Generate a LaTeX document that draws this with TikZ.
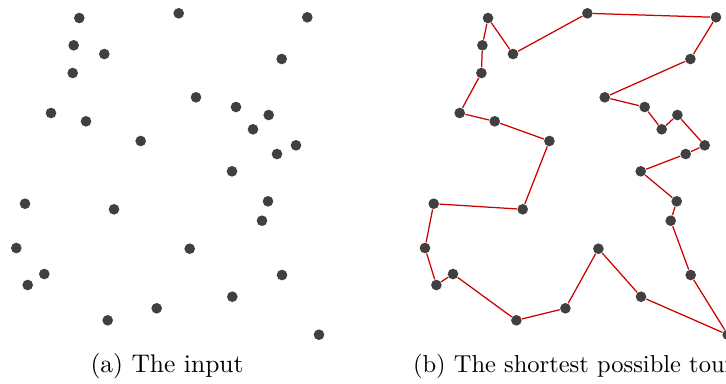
\documentclass[tikz,border=0pt]{standalone}
\definecolor{dotgray}{HTML}{404040}
\definecolor{tourred}{HTML}{CC0000}
\tikzset{
  pt/.style={circle, fill=dotgray, draw=none, inner sep=0pt, minimum size=4.25pt},
  tourline/.style={draw=tourred, line width=0.5pt},
  caption/.style={anchor=base west, inner sep=0pt, font=\fontsize{10.2}{12}\selectfont}
}
\begin{document}
\begin{tikzpicture}[x=0.4pt, y=-0.4pt]
\useasboundingbox (0,0) rectangle (726,383);
\clip (0,0) rectangle (726,383);
\def\pts{1/79.3/18, 2/178.7/13.3, 3/307.3/17.3, 4/73.7/45.3, 5/104.3/54,
  6/72.7/73, 7/281.7/59, 8/196/97.3, 9/51/113, 10/86/121.3,
  11/236/107, 12/268.7/115, 13/253/129.3, 14/140.7/141, 15/296/145.3,
  16/277/154, 17/232/171.3, 18/25/203.7, 19/114/209.3, 20/268/201.3,
  21/262/220.7, 22/16.3/248, 23/189.7/248.7, 24/44.3/274, 25/27.7/285,
  26/282/275, 27/232.3/296.7, 28/156.7/308.3, 29/107.7/320.3, 30/319/334.7}
% (a) the input
\foreach \i/\x/\y in \pts { \node[pt] (a\i) at (\x,\y) {}; }
% (b) the tour
\foreach \i/\x/\y in \pts { \node[pt] (b\i) at (\x+408.7,\y) {}; }
\draw[tourline] (b1) -- (b4) -- (b6) -- (b9) -- (b10) -- (b14) -- (b19) -- (b18)
  -- (b22) -- (b25) -- (b24) -- (b29) -- (b28) -- (b23) -- (b27) -- (b30)
  -- (b26) -- (b21) -- (b20) -- (b17) -- (b16) -- (b15) -- (b12) -- (b13)
  -- (b11) -- (b8) -- (b7) -- (b3) -- (b2) -- (b5) -- (b1);
\node[caption] (capa) at (90,372.7) {(a) The input};
\node[caption, font=\fontsize{9.8}{12}\selectfont] (capb) at (412.5,372.7) {(b) The shortest possible tour};
\end{tikzpicture}
\end{document}
